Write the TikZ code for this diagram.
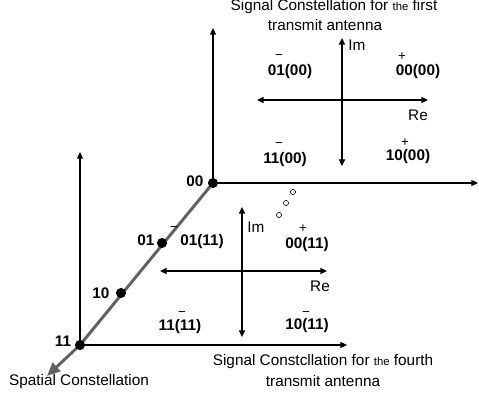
\documentclass[tikz,border=0pt]{standalone}
\usepackage{fontspec}
\setmainfont{Liberation Sans}
\usetikzlibrary{arrows.meta}

\begin{document}
\begin{tikzpicture}[x=0.75pt,y=0.75pt,yscale=-1,xscale=1,
  frameaxis/.style={draw=black,line width=0.8pt,-{Triangle[length=5pt,width=4.5pt]}},
  cstaxis/.style={draw=black,line width=1.1pt,{Triangle[length=5pt,width=4.5pt]}-{Triangle[length=5pt,width=4.5pt]}},
  spatial/.style={draw=black!62,line width=2.2pt,-{Triangle[length=10pt,width=8.5pt]}},
  symb/.style={font=\fontsize{11.5}{13}\selectfont\bfseries,inner sep=0pt},
  sign/.style={font=\fontsize{10}{10}\selectfont,inner sep=0pt},
  txt/.style={font=\fontsize{11.5}{13}\selectfont,inner sep=0pt},
  dot/.style={circle,fill=black,inner sep=0pt,minimum size=7.6pt},
  ring/.style={circle,draw=black,line width=0.45pt,inner sep=0pt,minimum size=3.8pt}]
\useasboundingbox (0,0) rectangle (479,399);

%Points of the spatial constellation
\coordinate (p00) at (213,183);
\coordinate (p01) at (162,243);
\coordinate (p10) at (121,293);
\coordinate (p11) at (80,345);
\coordinate (sp) at (47,376);
%Axis ends
\coordinate (up1) at (213,28);
\coordinate (rt1) at (478,183);
\coordinate (up2) at (80,152);
\coordinate (rt2) at (347,345);
\coordinate (imt1) at (342,38);
\coordinate (imb1) at (342,166);
\coordinate (rel1) at (257,100);
\coordinate (rer1) at (428,100);
\coordinate (imt2) at (242,207);
\coordinate (imb2) at (242,337);
\coordinate (rel2) at (160,271);
\coordinate (rer2) at (327,271);

%Straight Lines: frame of the first antenna
\draw[frameaxis] (p00) -- (up1);
\draw[frameaxis] (p00) -- (rt1);
%Straight Lines: frame of the fourth antenna
\draw[frameaxis] (p11) -- (up2);
\draw[frameaxis] (p11) -- (rt2);
%Straight Lines: spatial axis
\draw[spatial] (p00) -- (p11) -- (sp);

%Shape: dots
\node[dot] (d00) at (p00) {};
\node[dot] (d01) at (p01) {};
\node[dot] (d10) at (p10) {};
\node[dot] (d11) at (p11) {};
\node[symb] (l00) at (195,181) {00};
\node[symb] (l01) at (146,240) {01};
\node[symb] (l10) at (101,293) {10};
\node[symb] (l11) at (63,341) {11};
\node[txt] (spl) at (79,382) {Spatial Constellation};

%Shape: small circles
\node[ring] (r1) at (293,192) {};
\node[ring] (r2) at (286,203) {};
\node[ring] (r3) at (279,215) {};

%Straight Lines: constellation axes
\draw[cstaxis] (imt1) -- (imb1);
\draw[cstaxis] (rel1) -- (rer1);
\draw[cstaxis] (imt2) -- (imb2);
\draw[cstaxis] (rel2) -- (rer2);

%Labels: first antenna
\node[txt] (im1) at (357,45) {Im};
\node[txt] (re1) at (418,115) {Re};
\node[symb] (a01) at (290,72) {01(00)};
\node[symb] (a00) at (418,72) {00(00)};
\node[symb] (a11) at (285,160) {11(00)};
\node[symb] (a10) at (408,157) {10(00)};
\node[sign] (m01) at (279,57) {−};
\node[sign] (m00) at (402,57) {+};
\node[sign] (m11) at (279,145) {−};
\node[sign] (m10) at (405,143) {+};
\node[txt] (ttl1) at (334,7) {Signal Constellation for {\fontsize{8.5}{9}\selectfont the} first};
\node[txt] (ttl2) at (325,25) {transmit antenna};

%Labels: fourth antenna
\node[txt] (im2) at (256,227) {Im};
\node[txt] (re2) at (320,286) {Re};
\node[symb] (b01) at (202,242) {01(11)};
\node[symb] (b00) at (307,245) {00(11)};
\node[symb] (b11) at (180,327) {11(11)};
\node[symb] (b10) at (307,326) {10(11)};
\node[sign] (n01) at (174,229) {−};
\node[sign] (n00) at (303,229) {+};
\node[sign] (n11) at (182,314) {−};
\node[sign] (n10) at (306,314) {−};
\node[txt] (ttl3) at (323,362) {Signal Constcllation for {\fontsize{8.5}{9}\selectfont the} fourth};
\node[txt] (ttl4) at (323,381) {transmit antenna};

\end{tikzpicture}
\end{document}
